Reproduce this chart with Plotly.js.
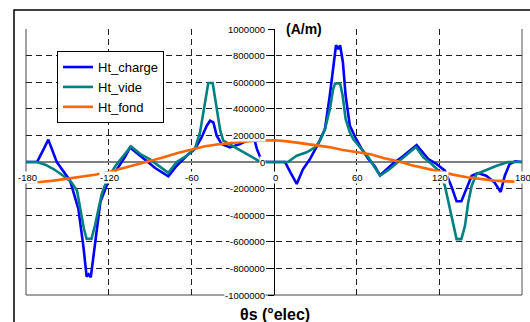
<!DOCTYPE html>
<html>
<head>
<meta charset="utf-8">
<script src="https://cdn.plot.ly/plotly-3.0.1.min.js"></script>
<style>html,body{margin:0;padding:0;background:#fff;}#chart{width:530px;height:322px;}</style>
</head>
<body>
<div id="chart"></div>
<script>
// ---- data ----
const seriesNames = ['Ht_charge', 'Ht_vide', 'Ht_fond'];

const chargeX = [-180,-172,-168,-163.8,-157.7,-148,-142,-138.4,-136,-134.5,-133,-130,-126,-121,-116.5,-111.5,-108,-104.5,-97,-94,-86,-76.7,-70.6,-63.4,-57.3,-52.5,-48.8,-46.4,-44,-41.6,-38,-32,-24.7,-19.8,-15.5,-12.5,-9,-5,0,8,12,16.5,21,26,32,37,40.5,43.5,45,46.7,48,50,52,55,59,63.5,68.5,73,77,86,94,103.5,112,118,124,129,132.5,136,140,143.5,148,154,160,164.5,167.5,171,175,180];
const chargeY = [0,0,80000,168000,0,-140000,-353000,-630000,-862000,-845000,-867000,-630000,-300000,-165000,-95000,-20000,40000,110000,47000,15000,-47000,-108000,-28000,47000,98000,186000,273000,310000,298000,198000,135000,110000,135000,160000,220000,100000,10000,0,0,0,-80000,-165000,-55000,20000,135000,248000,500000,750000,878000,850000,878000,750000,500000,275000,186000,100000,22000,-30000,-100000,-15000,47000,128000,22000,-15000,-65000,-190000,-295000,-295000,-190000,-103000,-83000,-103000,-153000,-225000,-103000,-15000,5000,0];

const videX = [-180,-172,-166,-160,-153,-147,-143,-141,-138,-136,-132.5,-130,-127.5,-125,-121,-115,-112,-107,-103.8,-97,-90,-76.7,-70.6,-63.4,-57.3,-53.7,-50,-47.7,-44.5,-42,-39,-36.8,-11.4,-8,0,10,16.5,23.7,29.8,33.4,37,40.6,43,44.3,48,49.8,52,55,57.5,62.4,68.5,77,84,103,108.4,114.4,119,124,127.7,130.8,132.5,136,138.6,141,143.5,147,153,161.6,170,180];
const videY = [0,0,-20000,-53000,-103000,-153000,-215000,-330000,-500000,-578000,-578000,-480000,-353000,-240000,-128000,-28000,10000,73000,118000,60000,20000,-82000,0,47000,103000,223000,450000,594000,594000,423000,235000,160000,10000,0,0,0,47000,73000,110000,160000,248000,400000,550000,590000,590000,500000,323000,223000,173000,110000,35000,-103000,-53000,112000,35000,-15000,-60000,-178000,-353000,-500000,-580000,-580000,-480000,-303000,-178000,-90000,-65000,-28000,0,0];

const fondX = [-180,-170,-160,-150,-140,-130,-120,-110,-100,-90,-80,-70,-60,-50,-40,-30,-20,-10,0,10,20,30,40,50,60,70,80,90,100,110,120,130,140,150,160,170,180];
const fondY = [-152000,-150000,-140000,-127000,-112000,-96000,-75000,-48000,-22000,8000,35000,68000,95000,118000,134000,146000,155000,162000,163000,155000,142000,130000,112000,90000,75000,58000,28000,5000,-25000,-50000,-75000,-95000,-115000,-130000,-140000,-146000,-150000];

const xTicks = [-180,-120,-60,0,60,120,180];
const xTickText = ['-180','-120','-60','0','60','120','180'];
const yTicks = [1000000,800000,600000,400000,200000,0,-200000,-400000,-600000,-800000,-1000000];
const yTickText = ['1000000','800000','600000','400000','200000','0','-200000','-400000','-600000','-800000','-1000000'];

const yUnit = '(A/m)';
const xTitle = 'θs (°elec)';

const colors = ['#0000FF', '#008080', '#FF6600'];

// ---- traces ----
const traces = [
  {x: chargeX, y: chargeY, name: seriesNames[0], type: 'scatter', mode: 'lines', line: {color: colors[0], width: 2.6}},
  {x: videX, y: videY, name: seriesNames[1], type: 'scatter', mode: 'lines', line: {color: colors[1], width: 2.6}},
  {x: fondX, y: fondY, name: seriesNames[2], type: 'scatter', mode: 'lines', line: {color: colors[2], width: 2.6}}
];

// ---- tick labels as masked annotations ----
const tickFont = {family: 'Liberation Sans, Arial, sans-serif', size: 9.5, color: '#000'};
const annotations = [];
xTicks.forEach((v, i) => {
  annotations.push({x: v, y: 0, xref: 'x', yref: 'y', text: xTickText[i], showarrow: false,
    xanchor: 'center', yanchor: 'middle', yshift: -15, xshift: 1, bgcolor: '#fff', borderpad: 0, font: tickFont});
});
yTicks.forEach((v, i) => {
  annotations.push({x: 0, y: v, xref: 'x', yref: 'y', text: yTickText[i], showarrow: false,
    xanchor: 'right', yanchor: 'middle', xshift: -8, bgcolor: '#fff', borderpad: 0, font: tickFont});
});
annotations.push({x: 0, y: 1000000, xref: 'x', yref: 'y', text: '<b>' + yUnit + '</b>', showarrow: false,
  xanchor: 'left', yanchor: 'middle', xshift: 11, bgcolor: '#fff', borderpad: 0,
  font: {family: 'Liberation Sans, Arial, sans-serif', size: 14, color: '#000'}});
annotations.push({x: 0, y: -0.075, xref: 'x', yref: 'paper', text: '<b>' + xTitle + '</b>', showarrow: false,
  xanchor: 'center', yanchor: 'middle', xshift: 1,
  font: {family: 'Liberation Sans, Arial, sans-serif', size: 16, color: '#000'}});

const layout = {
  width: 530, height: 322,
  margin: {l: 26, r: 8, t: 29, b: 27, pad: 0},
  paper_bgcolor: '#fff', plot_bgcolor: '#fff',
  font: {family: 'Liberation Sans, Arial, sans-serif', size: 10, color: '#000'},
  showlegend: true,
  legend: {x: 0.0625, y: 0.917, xanchor: 'left', yanchor: 'top', bgcolor: '#fff',
    bordercolor: '#000', borderwidth: 1, font: {size: 13, color: '#000'}, tracegroupgap: 0},
  xaxis: {range: [-180, 180], tickvals: xTicks, showticklabels: false, ticks: '',
    showgrid: true, gridcolor: '#222', gridwidth: 1, griddash: '6px,4px',
    zeroline: false, showline: false, fixedrange: true},
  yaxis: {range: [-1000000, 1000000], tickvals: yTicks, showticklabels: false,
    anchor: 'free', position: 0.5, side: 'left', showline: true, linecolor: '#000', linewidth: 1.3,
    ticks: 'outside', ticklen: 6, tickcolor: '#000', tickwidth: 1, layer: 'below traces',
    showgrid: true, gridcolor: '#222', gridwidth: 1, griddash: '6px,4px',
    zeroline: true, zerolinecolor: '#808080', zerolinewidth: 1.5, fixedrange: true},
  shapes: [
    {type: 'line', xref: 'paper', yref: 'paper', x0: 0, x1: 0, y0: 0, y1: 1, line: {color: '#444', width: 1}, layer: 'below'},
    {type: 'line', xref: 'paper', yref: 'paper', x0: 0, x1: 1, y0: 0, y1: 0, line: {color: '#444', width: 1}, layer: 'below'},
    {type: 'line', xref: 'paper', yref: 'paper', x0: 1, x1: 1, y0: 0, y1: 1, line: {color: '#555', width: 1}, layer: 'below'},
    {type: 'rect', xref: 'paper', yref: 'paper', x0: -0.0242, x1: 1.2, y0: -0.3, y1: 1.0714, line: {color: '#000', width: 1.5}, fillcolor: 'rgba(0,0,0,0)', layer: 'below'}
  ],
  annotations: annotations
};

Plotly.newPlot('chart', traces, layout, {displayModeBar: false, staticPlot: true});
</script>
</body>
</html>
